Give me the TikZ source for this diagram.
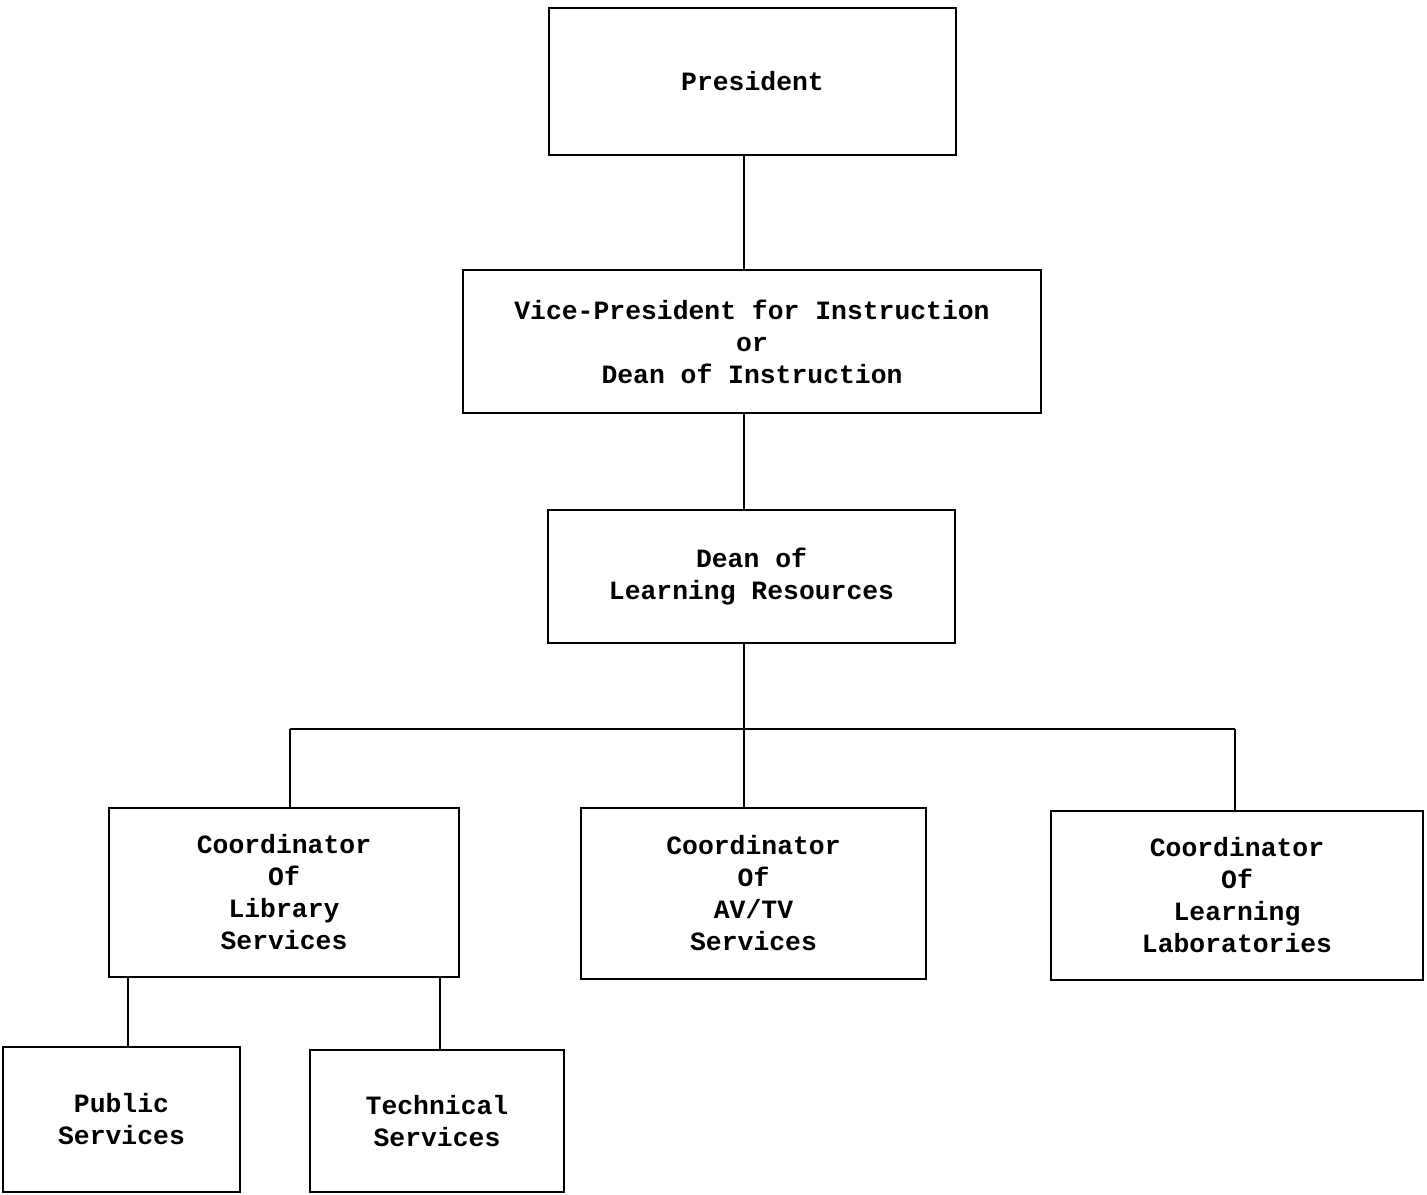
\documentclass[tikz,border=0pt]{standalone}
\usepackage{fontspec}
\setmainfont{Liberation Mono}
\begin{document}
\begin{tikzpicture}[x=0.5pt,y=-0.5pt,
  box/.style={draw,line width=1.2pt,inner sep=0pt,align=center,
    font=\bfseries\fontsize{13.2}{16}\selectfont},
  conn/.style={line width=1.2pt}]
\useasboundingbox (0,0) rectangle (1427,1194);
\node[box,minimum width=203.5pt,minimum height=73.5pt] (pres) at (752.5,81.5) {President};
\node[box,minimum width=289pt,minimum height=71.5pt] (vp) at (752,341.5)
  {Vice-President for Instruction\\or\\Dean of Instruction};
\node[box,minimum width=203.5pt,minimum height=66.5pt] (dean) at (751.5,576.5)
  {Dean of\\Learning Resources};
\node[box,minimum width=175pt,minimum height=84.5pt] (lib) at (284,892.5)
  {Coordinator\\Of\\Library\\Services};
\node[box,minimum width=172.5pt,minimum height=85.5pt] (av) at (753.5,893.5)
  {Coordinator\\Of\\AV/TV\\Services};
\node[box,minimum width=186pt,minimum height=84.5pt] (labs) at (1237,895.5)
  {Coordinator\\Of\\Learning\\Laboratories};
\node[box,minimum width=118.5pt,minimum height=72.5pt] (pub) at (121.5,1119.5)
  {Public\\Services};
\node[box,minimum width=127pt,minimum height=71pt] (tech) at (437,1121)
  {Technical\\Services};
\coordinate (j) at (744,729);
\coordinate (jl) at (290,729);
\coordinate (jr) at (1235,729);
\coordinate (pl) at (128,0);
\coordinate (tl) at (440,0);
\draw[conn] (pres.south -| j) -- (vp.north -| j);
\draw[conn] (vp.south -| j) -- (dean.north -| j);
\draw[conn] (dean.south -| j) -- (j);
\draw[conn] (jl) -- (jr);
\draw[conn] (jl) -- (jl |- lib.north);
\draw[conn] (j) -- (j |- av.north);
\draw[conn] (jr) -- (jr |- labs.north);
\draw[conn] (lib.south -| pl) -- (pub.north -| pl);
\draw[conn] (lib.south -| tl) -- (tech.north -| tl);
\end{tikzpicture}
\end{document}
